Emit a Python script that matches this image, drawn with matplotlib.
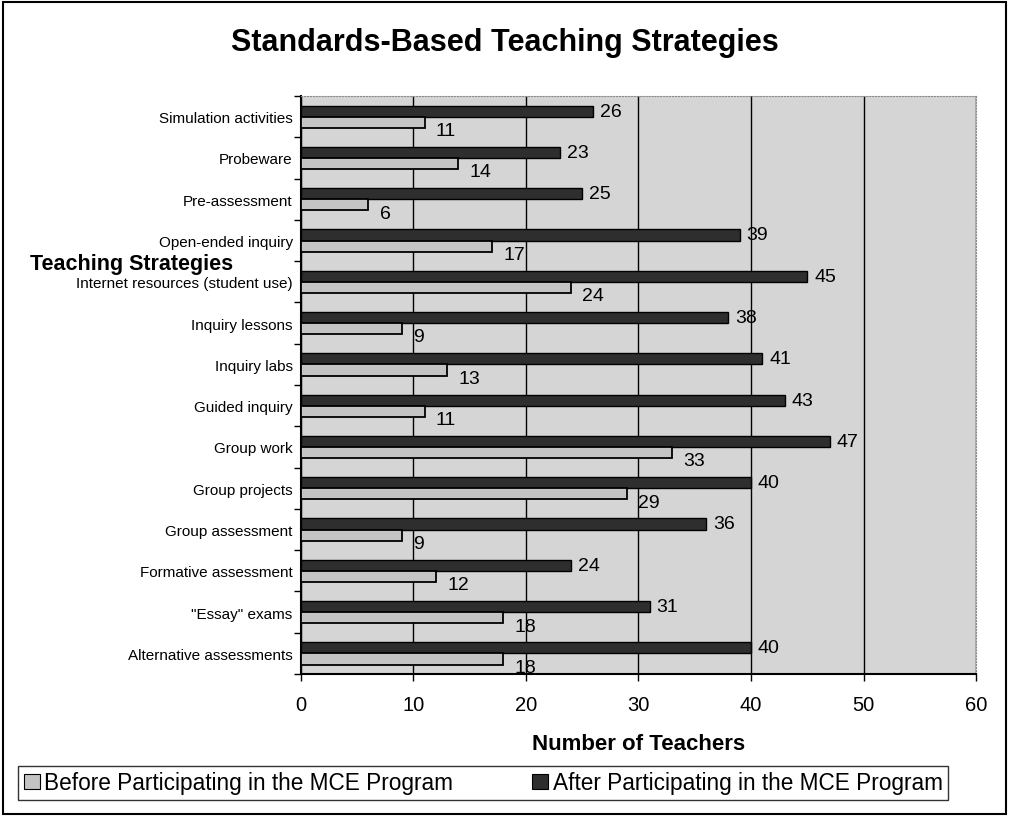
# horizontal bar chart: teaching strategies before / after the MCE program
# saves to out.png

import matplotlib
matplotlib.use('Agg')
import matplotlib.pyplot as plt
from matplotlib.patches import Rectangle, Patch
import numpy as np

plt.rcParams['font.family'] = ['Liberation Sans', 'DejaVu Sans']

# categories, top to bottom as shown
strategies = ['Simulation activities',
              'Probeware',
              'Pre-assessment',
              'Open-ended inquiry',
              'Internet resources (student use)',
              'Inquiry lessons',
              'Inquiry labs',
              'Guided inquiry',
              'Group work',
              'Group projects',
              'Group assessment',
              'Formative assessment',
              '"Essay" exams',
              'Alternative assessments']

before = [11, 14, 6, 17, 24, 9, 13, 11, 33, 29, 9, 12, 18, 18]
after = [26, 23, 25, 39, 45, 38, 41, 43, 47, 40, 36, 24, 31, 40]

x_ticks = [0, 10, 20, 30, 40, 50, 60]

before_label = 'Before Participating in the MCE Program'
after_label = 'After Participating in the MCE Program'

# colours
bg_color = '#d5d5d5'
before_color = '#c4c4c4'
after_color = '#2e2e2e'

fig = plt.figure(figsize=(10.09, 8.2), dpi=100)
ax = fig.add_axes([0.2983, 0.1768, 0.669, 0.7049])
ax.set_facecolor(bg_color)

y = np.arange(len(strategies))
bar_h = 0.27

ax.barh(y - bar_h / 2, after, height=bar_h, color=after_color,
        edgecolor='black', linewidth=1.0, zorder=3)
ax.barh(y + bar_h / 2, before, height=bar_h, color=before_color,
        edgecolor='black', linewidth=1.3, zorder=3)

# value labels
for i in range(len(strategies)):
    ax.annotate(str(after[i]), (after[i], y[i] - bar_h / 2),
                xytext=(5, 0), textcoords='offset points',
                ha='left', va='center', fontsize=14, zorder=4)
    ax.annotate(str(before[i]), (before[i], y[i] + bar_h / 2),
                xytext=(8, -6), textcoords='offset points',
                ha='left', va='center', fontsize=14, zorder=4)

ax.set_xlim(0, 60)
ax.set_ylim(len(strategies) - 0.5, -0.5)

ax.set_xticks(x_ticks)
ax.set_xticklabels([str(t) for t in x_ticks], fontsize=14.5)
ax.tick_params(axis='x', direction='out', length=5, width=1, pad=10)
ax.xaxis.grid(True, color='black', linewidth=1, zorder=1)
ax.set_axisbelow(True)

ax.set_yticks(y)
ax.set_yticklabels(strategies, fontsize=11)
ax.tick_params(axis='y', which='major', length=0, pad=6)
ax.set_yticks(np.arange(len(strategies) + 1) - 0.5, minor=True)
ax.tick_params(axis='y', which='minor', direction='out', length=5, width=1)

for side in ['left', 'bottom']:
    ax.spines[side].set_color('black')
    ax.spines[side].set_linewidth(1.5)
for side in ['top', 'right']:
    ax.spines[side].set_color('#8a8a8a')
    ax.spines[side].set_linewidth(0.8)
    ax.spines[side].set_linestyle(':')

ax.set_xlabel('Number of Teachers', fontsize=16, fontweight='bold', labelpad=14)

fig.text(0.5, 0.947, 'Standards-Based Teaching Strategies',
         ha='center', va='center', fontsize=22, fontweight='bold')
fig.text(0.03, 0.677, 'Teaching Strategies',
         ha='left', va='center', fontsize=15.5, fontweight='bold')

handles = [Patch(facecolor=before_color, edgecolor='black', linewidth=0.8),
           Patch(facecolor=after_color, edgecolor='black', linewidth=0.8)]
leg = fig.legend(handles, [before_label, after_label],
                 loc='lower left', bbox_to_anchor=(0.018, 0.023),
                 ncol=2, fontsize=16.3, frameon=True,
                 fancybox=False, borderpad=0.25, handlelength=0.7,
                 handleheight=0.7, handletextpad=0.2, columnspacing=3.5,
                 borderaxespad=0)
leg.get_frame().set_edgecolor('black')
leg.get_frame().set_linewidth(1)

# outer border of the chart
fig.patches.append(Rectangle((0.003, 0.006), 0.994, 0.99,
                             transform=fig.transFigure, fill=False,
                             edgecolor='black', linewidth=1.5))

fig.savefig('out.png', dpi=100)
